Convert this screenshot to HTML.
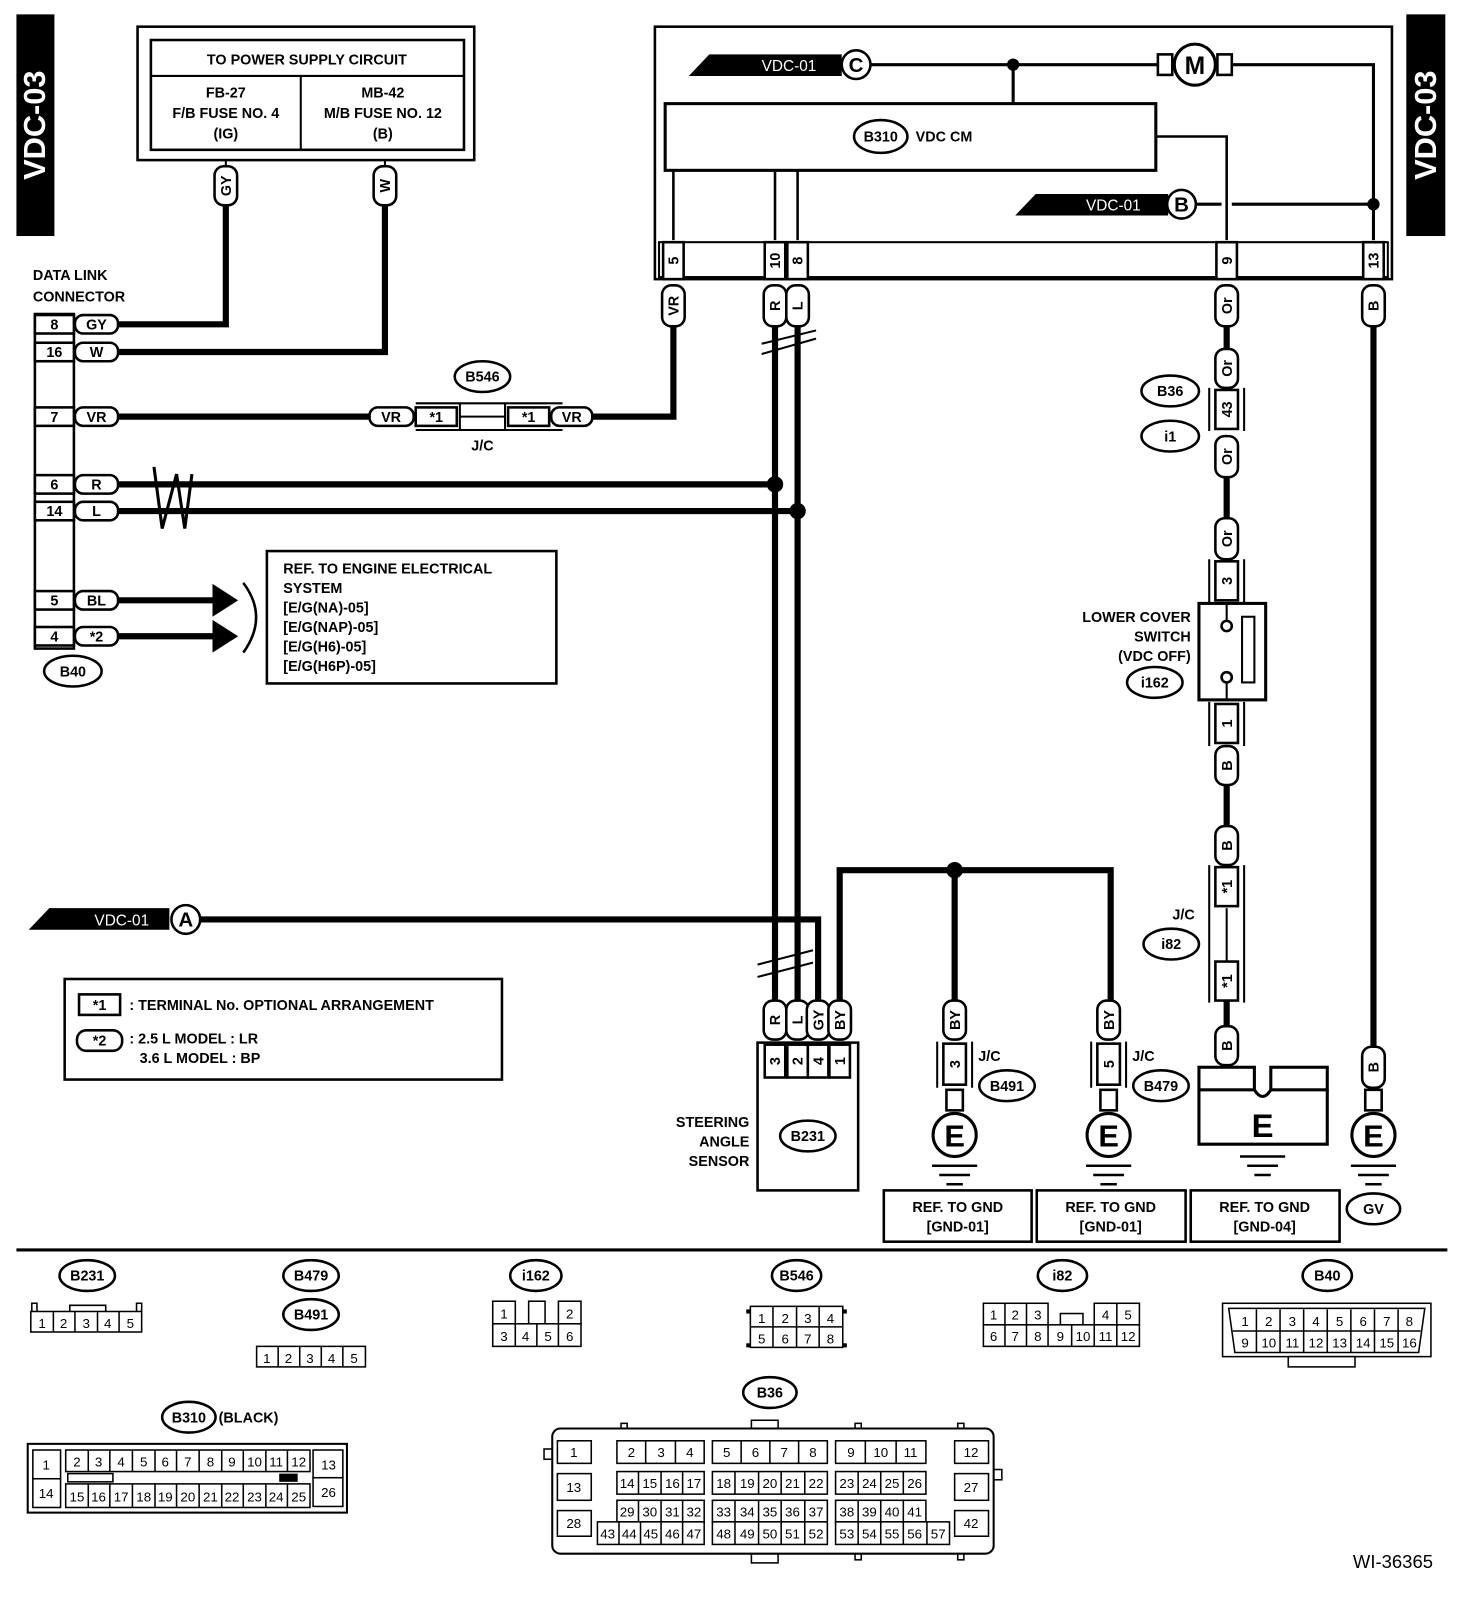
<!DOCTYPE html>
<html><head><meta charset="utf-8"><style>
html,body{margin:0;padding:0;background:#fff}
svg{display:block}
.t{font-family:"Liberation Sans",sans-serif;font-weight:bold;font-size:14px;fill:#000}
.n{font-family:"Liberation Sans Narrow","Liberation Sans",sans-serif;font-size:13px;text-anchor:middle;fill:#000}
.c{text-anchor:middle}
.r{text-anchor:end}
.w{stroke:#000;stroke-width:6;fill:none}
.l{stroke:#000;stroke-width:2;fill:none}
.b{stroke:#000;stroke-width:2.5;fill:#fff}
.cl{stroke:#000;stroke-width:1.5;fill:#fff}
</style></head><body>
<svg width="1472" height="1606" viewBox="0 0 1434 1565" preserveAspectRatio="none" xmlns="http://www.w3.org/2000/svg">
<!-- side bars -->
<rect x="16" y="14" width="37" height="216" fill="#000"/>
<text class="t" transform="translate(44,122) rotate(-90)" text-anchor="middle" style="font-size:30px;fill:#fff">VDC-03</text>
<rect x="1370" y="14" width="38" height="216" fill="#000"/>
<text class="t" transform="translate(1399,122) rotate(-90)" text-anchor="middle" style="font-size:30px;fill:#fff">VDC-03</text>

<!-- power supply box -->
<rect x="134" y="26" width="328" height="130" class="l" style="stroke-width:2.5"/>
<rect x="147" y="39" width="305" height="107" class="l" style="stroke-width:2.5"/>
<line x1="147" y1="74" x2="452" y2="74" class="l"/>
<line x1="293" y1="74" x2="293" y2="146" class="l"/>
<text class="t c" x="299" y="63">TO POWER SUPPLY CIRCUIT</text>
<text class="t c" x="220" y="95">FB-27</text><text class="t c" x="220" y="115">F/B FUSE NO. 4</text><text class="t c" x="220" y="135">(IG)</text>
<text class="t c" x="373" y="95">MB-42</text><text class="t c" x="373" y="115">M/B FUSE NO. 12</text><text class="t c" x="373" y="135">(B)</text>

<!-- wires -->
<path class="w" d="M220 200 V316 H115"/>
<path class="w" d="M375 200 V343 H115"/>
<line x1="220" y1="156" x2="220" y2="162" class="l"/><line x1="375" y1="156" x2="375" y2="162" class="l"/>
<path class="w" d="M115 406 H360"/>
<path class="w" d="M577 406 H656 V318"/>
<path class="w" d="M115 472 H755"/>
<path class="w" d="M115 498 H777"/>
<path class="w" d="M755 318 V975"/>
<path class="w" d="M777 318 V975"/>
<path class="w" d="M195 896 H797 V975"/>
<path class="w" d="M818 975 V848 H1082 V975"/>
<path class="w" d="M930 848 V975"/>
<path class="w" d="M1195 316 V340"/><path class="w" d="M1195 465 V505"/><path class="w" d="M1195 765 V805"/>
<path class="w" d="M1338 316 V1020"/>
<circle cx="755" cy="472" r="8"/><circle cx="777" cy="498" r="8"/><circle cx="930" cy="848" r="8"/>
<!-- twist marks -->
<path class="l" d="M150 455 L158 515 L172 462 L180 515 L187 462" style="stroke-width:3"/>
<path class="l" d="M742 345 L795 330 M742 335 L795 322" style="stroke-width:2"/>
<path class="l" d="M738 940 L792 926 M738 952 L792 938" style="stroke-width:2"/>

<!-- data link connector -->
<text class="t" x="32" y="273">DATA LINK</text><text class="t" x="32" y="294">CONNECTOR</text>
<rect x="34" y="306" width="38" height="326" class="l" style="stroke-width:2.5"/>
<g>
<rect x="34" y="307" width="38" height="18" class="b"/><text class="t c" x="53" y="321">8</text>
<rect x="73" y="307" width="42" height="18" rx="8" class="b"/><text class="t c" x="94" y="321">GY</text>
<rect x="34" y="334" width="38" height="18" class="b"/><text class="t c" x="53" y="348">16</text>
<rect x="73" y="334" width="42" height="18" rx="8" class="b"/><text class="t c" x="94" y="348">W</text>
<rect x="34" y="397" width="38" height="18" class="b"/><text class="t c" x="53" y="411">7</text>
<rect x="73" y="397" width="42" height="18" rx="8" class="b"/><text class="t c" x="94" y="411">VR</text>
<rect x="34" y="463" width="38" height="18" class="b"/><text class="t c" x="53" y="477">6</text>
<rect x="73" y="463" width="42" height="18" rx="8" class="b"/><text class="t c" x="94" y="477">R</text>
<rect x="34" y="489" width="38" height="18" class="b"/><text class="t c" x="53" y="503">14</text>
<rect x="73" y="489" width="42" height="18" rx="8" class="b"/><text class="t c" x="94" y="503">L</text>
<rect x="34" y="576" width="38" height="18" class="b"/><text class="t c" x="53" y="590">5</text>
<rect x="73" y="576" width="42" height="18" rx="8" class="b"/><text class="t c" x="94" y="590">BL</text>
<rect x="34" y="611" width="38" height="18" class="b"/><text class="t c" x="53" y="625">4</text>
<rect x="73" y="611" width="42" height="18" rx="8" class="b"/><text class="t c" x="94" y="625">*2</text>
</g>
<ellipse cx="71" cy="654" rx="28" ry="15" class="b"/><text class="t c" x="71" y="659">B40</text>
<path class="w" d="M115 585 H212"/><path class="w" d="M115 620 H212"/>
<polygon points="207,569 232,585 207,601"/><polygon points="207,604 232,620 207,636"/>
<path class="l" d="M237 568 Q262 601 237 636" style="stroke-width:2.5"/>
<rect x="260" y="537" width="282" height="129" class="l" style="stroke-width:2.5"/>
<text class="t" x="276" y="559">REF. TO ENGINE ELECTRICAL</text>
<text class="t" x="276" y="578">SYSTEM</text>
<text class="t" x="276" y="597">[E/G(NA)-05]</text>
<text class="t" x="276" y="616">[E/G(NAP)-05]</text>
<text class="t" x="276" y="635">[E/G(H6)-05]</text>
<text class="t" x="276" y="654">[E/G(H6P)-05]</text>

<!-- B546 J/C -->
<ellipse cx="470" cy="367" rx="27" ry="15" class="b"/><text class="t c" x="470" y="372">B546</text>
<rect x="360" y="397" width="43" height="18" rx="8" class="b"/><text class="t c" x="381" y="411">VR</text>
<rect x="405" y="397" width="40" height="18" class="b"/><text class="t c" x="425" y="411">*1</text>
<rect x="495" y="397" width="40" height="18" class="b"/><text class="t c" x="515" y="411">*1</text>
<rect x="537" y="397" width="40" height="18" rx="8" class="b"/><text class="t c" x="557" y="411">VR</text>
<line x1="405" y1="393" x2="548" y2="393" class="l"/><line x1="405" y1="419" x2="548" y2="419" class="l"/>
<line x1="448" y1="393" x2="448" y2="419" class="l"/><line x1="492" y1="393" x2="492" y2="419" class="l"/>
<line x1="448" y1="406" x2="492" y2="406" class="l"/>
<text class="t c" x="470" y="439">J/C</text>

<!-- VDC-01 A -->
<polygon points="28,906 48,885 165,885 165,906"/>
<text class="t" x="92" y="902" style="fill:#fff;font-weight:normal;font-size:15px">VDC-01</text>
<circle cx="181" cy="896" r="14" class="b"/><text class="t c" x="181" y="903" style="font-size:20px">A</text>

<!-- legend -->
<rect x="63" y="954" width="426" height="98" class="l" style="stroke-width:2.5"/>
<rect x="77" y="969" width="40" height="20" class="b"/><text class="t c" x="97" y="984">*1</text>
<text class="t" x="126" y="984">: TERMINAL No. OPTIONAL ARRANGEMENT</text>
<rect x="75" y="1004" width="44" height="20" rx="9" class="b"/><text class="t c" x="97" y="1019">*2</text>
<text class="t" x="126" y="1017">: 2.5 L MODEL  : LR</text>
<text class="t" x="136" y="1036">3.6 L MODEL  : BP</text>

<!-- main module -->
<rect x="638" y="26" width="718" height="246" class="l" style="stroke-width:2.5"/>
<rect x="642" y="236" width="710" height="34" class="l" style="stroke-width:2"/>
<polygon points="671,74 691,53 820,53 820,74"/>
<text x="742" y="69" class="t" style="fill:#fff;font-weight:normal;font-size:15px">VDC-01</text>
<circle cx="834" cy="63" r="14" class="b"/><text class="t c" x="834" y="70" style="font-size:20px">C</text>
<path class="l" d="M848 63 H1128 M1200 63 H1338 V234" style="stroke-width:3"/>
<path class="l" d="M987 63 V101" style="stroke-width:3"/><circle cx="987" cy="63" r="6"/>
<rect x="1128" y="53" width="14" height="20" class="b"/><rect x="1186" y="53" width="14" height="20" class="b"/>
<circle cx="1164" cy="63" r="20" class="b" style="stroke-width:3"/><text class="t c" x="1164" y="72" style="font-size:24px">M</text>
<rect x="648" y="101" width="478" height="65" class="l" style="stroke-width:3"/>
<ellipse cx="858" cy="133" rx="26" ry="16" class="b"/><text class="t c" x="858" y="138">B310</text>
<text class="t" x="892" y="138">VDC CM</text>
<path class="l" d="M1126 133 H1195 V234" style="stroke-width:2.5"/>
<polygon points="989,210 1009,189 1138,189 1138,210"/>
<text x="1058" y="205" class="t" style="fill:#fff;font-weight:normal;font-size:15px">VDC-01</text>
<circle cx="1151" cy="199" r="14" class="b"/><text class="t c" x="1151" y="206" style="font-size:20px">B</text>
<path class="l" d="M1165 199 H1190 M1200 199 H1338" style="stroke-width:3"/><circle cx="1338" cy="199" r="6"/>
<path class="l" d="M656 166 V234 M755 166 V234 M777 166 V234" style="stroke-width:2.5"/>
<!-- pin boxes -->
<g>
<rect x="646" y="236" width="20" height="36" class="b"/><text class="t" transform="translate(661,254) rotate(-90)" text-anchor="middle">5</text>
<rect x="745" y="236" width="20" height="36" class="b"/><text class="t" transform="translate(760,254) rotate(-90)" text-anchor="middle">10</text>
<rect x="767" y="236" width="20" height="36" class="b"/><text class="t" transform="translate(782,254) rotate(-90)" text-anchor="middle">8</text>
<rect x="1185" y="236" width="20" height="36" class="b"/><text class="t" transform="translate(1200,254) rotate(-90)" text-anchor="middle">9</text>
<rect x="1328" y="236" width="20" height="36" class="b"/><text class="t" transform="translate(1343,254) rotate(-90)" text-anchor="middle">13</text>
</g>
<!-- vertical wire labels -->
<g>
<rect x="209" y="162" width="22" height="38" rx="9" class="b"/><text class="t" transform="translate(225,181) rotate(-90)" text-anchor="middle">GY</text>
<rect x="364" y="162" width="22" height="38" rx="9" class="b"/><text class="t" transform="translate(380,181) rotate(-90)" text-anchor="middle">W</text>
<rect x="645" y="278" width="22" height="40" rx="9" class="b"/><text class="t" transform="translate(661,298) rotate(-90)" text-anchor="middle">VR</text>
<rect x="744" y="278" width="22" height="40" rx="9" class="b"/><text class="t" transform="translate(760,298) rotate(-90)" text-anchor="middle">R</text>
<rect x="766" y="278" width="22" height="40" rx="9" class="b"/><text class="t" transform="translate(782,298) rotate(-90)" text-anchor="middle">L</text>
<rect x="1184" y="278" width="22" height="40" rx="9" class="b"/><text class="t" transform="translate(1200,298) rotate(-90)" text-anchor="middle">Or</text>
<rect x="1327" y="278" width="22" height="40" rx="9" class="b"/><text class="t" transform="translate(1343,298) rotate(-90)" text-anchor="middle">B</text>
</g>

<!-- Or chain -->
<rect x="1184" y="340" width="22" height="38" rx="9" class="b"/><text class="t" transform="translate(1200,359) rotate(-90)" text-anchor="middle">Or</text>
<path class="l" d="M1178 378 V420 M1212 378 V420"/>
<rect x="1184" y="380" width="22" height="38" class="b"/><text class="t" transform="translate(1200,399) rotate(-90)" text-anchor="middle">43</text>
<rect x="1184" y="425" width="22" height="40" rx="9" class="b"/><text class="t" transform="translate(1200,445) rotate(-90)" text-anchor="middle">Or</text>
<ellipse cx="1140" cy="381" rx="28" ry="15" class="b"/><text class="t c" x="1140" y="386">B36</text>
<ellipse cx="1140" cy="425" rx="28" ry="15" class="b"/><text class="t c" x="1140" y="430">i1</text>
<rect x="1184" y="505" width="22" height="40" rx="9" class="b"/><text class="t" transform="translate(1200,525) rotate(-90)" text-anchor="middle">Or</text>
<path class="l" d="M1178 545 V588 M1212 545 V588"/>
<rect x="1184" y="547" width="22" height="38" class="b"/><text class="t" transform="translate(1200,566) rotate(-90)" text-anchor="middle">3</text>
<rect x="1168" y="588" width="65" height="94" class="l" style="stroke-width:3"/>
<path class="l" d="M1195 588 V605 M1195 665 V682"/>
<circle cx="1195" cy="610" r="5" class="b"/><circle cx="1195" cy="660" r="5" class="b"/>
<rect x="1210" y="601" width="12" height="64" class="l"/>
<text class="t r" x="1160" y="606">LOWER COVER</text><text class="t r" x="1160" y="625">SWITCH</text><text class="t r" x="1160" y="644">(VDC OFF)</text>
<ellipse cx="1125" cy="665" rx="27" ry="15" class="b"/><text class="t c" x="1125" y="670">i162</text>
<path class="l" d="M1178 684 V727 M1212 684 V727"/>
<rect x="1184" y="686" width="22" height="38" class="b"/><text class="t" transform="translate(1200,705) rotate(-90)" text-anchor="middle">1</text>
<rect x="1184" y="727" width="22" height="38" rx="9" class="b"/><text class="t" transform="translate(1200,746) rotate(-90)" text-anchor="middle">B</text>
<rect x="1184" y="805" width="22" height="38" rx="9" class="b"/><text class="t" transform="translate(1200,824) rotate(-90)" text-anchor="middle">B</text>
<path class="l" d="M1178 843 V977 M1212 843 V977"/>
<rect x="1184" y="845" width="22" height="38" class="b"/><text class="t" transform="translate(1200,864) rotate(-90)" text-anchor="middle">*1</text>
<line x1="1195" y1="885" x2="1195" y2="937" class="l"/>
<rect x="1184" y="937" width="22" height="38" class="b"/><text class="t" transform="translate(1200,956) rotate(-90)" text-anchor="middle">*1</text>
<path class="w" d="M1195 975 V1000"/>
<text class="t c" x="1153" y="896">J/C</text>
<ellipse cx="1141" cy="920" rx="27" ry="15" class="b"/><text class="t c" x="1141" y="925">i82</text>
<rect x="1184" y="1000" width="22" height="38" rx="9" class="b"/><text class="t" transform="translate(1200,1019) rotate(-90)" text-anchor="middle">B</text>
<rect x="1168" y="1040" width="54" height="22" class="b" style="stroke-width:3"/>
<rect x="1238" y="1040" width="55" height="22" class="b" style="stroke-width:3"/>
<path class="l" d="M1168 1062 V1115 H1293 V1062 M1222 1062 Q1230 1075 1238 1062" style="stroke-width:3"/>
<text class="t c" x="1230" y="1108" style="font-size:32px">E</text>
<path class="l" d="M1208 1127 H1252 M1215 1136 H1245 M1222 1145 H1238" style="stroke-width:2.5"/>

<!-- steering angle sensor -->
<g>
<rect x="744" y="975" width="22" height="38" rx="9" class="b"/><text class="t" transform="translate(760,994) rotate(-90)" text-anchor="middle">R</text>
<rect x="766" y="975" width="22" height="38" rx="9" class="b"/><text class="t" transform="translate(782,994) rotate(-90)" text-anchor="middle">L</text>
<rect x="786" y="975" width="22" height="38" rx="9" class="b"/><text class="t" transform="translate(802,994) rotate(-90)" text-anchor="middle">GY</text>
<rect x="807" y="975" width="22" height="38" rx="9" class="b"/><text class="t" transform="translate(823,994) rotate(-90)" text-anchor="middle">BY</text>
</g>
<rect x="738" y="1016" width="98" height="144" class="l" style="stroke-width:2.5"/>
<g>
<rect x="745" y="1018" width="20" height="32" class="b"/><text class="t" transform="translate(760,1034) rotate(-90)" text-anchor="middle">3</text>
<rect x="767" y="1018" width="20" height="32" class="b"/><text class="t" transform="translate(782,1034) rotate(-90)" text-anchor="middle">2</text>
<rect x="787" y="1018" width="20" height="32" class="b"/><text class="t" transform="translate(802,1034) rotate(-90)" text-anchor="middle">4</text>
<rect x="808" y="1018" width="20" height="32" class="b"/><text class="t" transform="translate(823,1034) rotate(-90)" text-anchor="middle">1</text>
</g>
<ellipse cx="787" cy="1107" rx="27" ry="15" class="b"/><text class="t c" x="787" y="1112">B231</text>
<text class="t r" x="730" y="1098">STEERING</text><text class="t r" x="730" y="1117">ANGLE</text><text class="t r" x="730" y="1136">SENSOR</text>

<!-- grounds B491 / B479 -->
<g>
<rect x="919" y="975" width="22" height="38" rx="9" class="b"/><text class="t" transform="translate(935,994) rotate(-90)" text-anchor="middle">BY</text>
<path class="l" d="M913 1015 V1060 M947 1015 V1060"/>
<rect x="919" y="1017" width="22" height="40" class="b"/><text class="t" transform="translate(935,1037) rotate(-90)" text-anchor="middle">3</text>
<rect x="922" y="1062" width="16" height="20" class="b"/>
<circle cx="930" cy="1106" r="21" class="b" style="stroke-width:3"/><text class="t c" x="930" y="1117" style="font-size:30px">E</text>
<path class="l" d="M908 1136 H952 M915 1145 H945 M922 1154 H938" style="stroke-width:2.5"/>
<text class="t" x="953" y="1034">J/C</text>
<ellipse cx="981" cy="1058" rx="27" ry="15" class="b"/><text class="t c" x="981" y="1063">B491</text>
</g>
<g>
<rect x="1069" y="975" width="22" height="38" rx="9" class="b"/><text class="t" transform="translate(1085,994) rotate(-90)" text-anchor="middle">BY</text>
<path class="l" d="M1063 1015 V1060 M1097 1015 V1060"/>
<rect x="1069" y="1017" width="22" height="40" class="b"/><text class="t" transform="translate(1085,1037) rotate(-90)" text-anchor="middle">5</text>
<rect x="1072" y="1062" width="16" height="20" class="b"/>
<circle cx="1080" cy="1106" r="21" class="b" style="stroke-width:3"/><text class="t c" x="1080" y="1117" style="font-size:30px">E</text>
<path class="l" d="M1058 1136 H1102 M1065 1145 H1095 M1072 1154 H1088" style="stroke-width:2.5"/>
<text class="t" x="1103" y="1034">J/C</text>
<ellipse cx="1131" cy="1058" rx="27" ry="15" class="b"/><text class="t c" x="1131" y="1063">B479</text>
</g>
<g>
<rect x="1327" y="1020" width="22" height="40" rx="9" class="b"/><text class="t" transform="translate(1343,1040) rotate(-90)" text-anchor="middle">B</text>
<rect x="1330" y="1062" width="16" height="20" class="b"/>
<circle cx="1338" cy="1106" r="21" class="b" style="stroke-width:3"/><text class="t c" x="1338" y="1117" style="font-size:30px">E</text>
<path class="l" d="M1316 1136 H1360 M1323 1145 H1353 M1330 1154 H1346" style="stroke-width:2.5"/>
<ellipse cx="1338" cy="1178" rx="26" ry="15" class="b"/><text class="t c" x="1338" y="1183">GV</text>
</g>
<rect x="861" y="1160" width="144" height="50" class="l" style="stroke-width:2.5"/>
<rect x="1010" y="1160" width="145" height="50" class="l" style="stroke-width:2.5"/>
<rect x="1160" y="1160" width="145" height="50" class="l" style="stroke-width:2.5"/>
<text class="t c" x="933" y="1181">REF. TO GND</text><text class="t c" x="933" y="1200">[GND-01]</text>
<text class="t c" x="1082" y="1181">REF. TO GND</text><text class="t c" x="1082" y="1200">[GND-01]</text>
<text class="t c" x="1232" y="1181">REF. TO GND</text><text class="t c" x="1232" y="1200">[GND-04]</text>

<line x1="16" y1="1218" x2="1410" y2="1218" stroke="#000" stroke-width="3"/>

<!-- bottom connectors -->
<g>
<ellipse cx="85" cy="1243" rx="27" ry="15" class="b"/><text class="t c" x="85" y="1248">B231</text>
<path class="l" d="M31 1278 V1270 H36 V1278 M68 1278 V1272 H103 V1278 M133 1278 V1270 H138 V1278" style="stroke-width:1.5"/>
<rect x="30" y="1278" width="108" height="20" class="cl"/>
<path class="l" d="M52 1278 V1298 M73 1278 V1298 M95 1278 V1298 M116 1278 V1298" style="stroke-width:1.5"/>
<text class="n" x="41" y="1294">1</text><text class="n" x="62" y="1294">2</text><text class="n" x="84" y="1294">3</text><text class="n" x="105" y="1294">4</text><text class="n" x="127" y="1294">5</text>
</g>
<g>
<ellipse cx="303" cy="1243" rx="27" ry="15" class="b"/><text class="t c" x="303" y="1248">B479</text>
<ellipse cx="303" cy="1281" rx="27" ry="15" class="b"/><text class="t c" x="303" y="1286">B491</text>
<rect x="250" y="1312" width="106" height="20" class="cl"/>
<path class="l" d="M271 1312 V1332 M292 1312 V1332 M313 1312 V1332 M334 1312 V1332" style="stroke-width:1.5"/>
<text class="n" x="260" y="1328">1</text><text class="n" x="281" y="1328">2</text><text class="n" x="302" y="1328">3</text><text class="n" x="323" y="1328">4</text><text class="n" x="345" y="1328">5</text>
</g>
<g>
<ellipse cx="522" cy="1243" rx="25" ry="15" class="b"/><text class="t c" x="522" y="1248">i162</text>
<rect x="480" y="1268" width="22" height="22" class="cl"/><rect x="544" y="1268" width="22" height="22" class="cl"/>
<rect x="515" y="1268" width="16" height="22" class="cl"/>
<rect x="480" y="1290" width="86" height="22" class="cl"/>
<path class="l" d="M502 1290 V1312 M523 1290 V1312 M544 1290 V1312" style="stroke-width:1.5"/>
<text class="n" x="491" y="1285">1</text><text class="n" x="555" y="1285">2</text>
<text class="n" x="491" y="1307">3</text><text class="n" x="512" y="1307">4</text><text class="n" x="534" y="1307">5</text><text class="n" x="555" y="1307">6</text>
</g>
<g>
<ellipse cx="776" cy="1243" rx="24" ry="15" class="b"/><text class="t c" x="776" y="1248">B546</text>
<rect x="731" y="1273" width="90" height="40" class="cl"/>
<path class="l" d="M731 1293 H821 M753 1273 V1313 M776 1273 V1313 M798 1273 V1313" style="stroke-width:1.5"/>
<rect x="727" y="1276" width="4" height="4"/><rect x="821" y="1276" width="4" height="4"/><rect x="727" y="1309" width="4" height="4"/><rect x="821" y="1309" width="4" height="4"/>
<text class="n" x="742" y="1289">1</text><text class="n" x="765" y="1289">2</text><text class="n" x="787" y="1289">3</text><text class="n" x="809" y="1289">4</text>
<text class="n" x="742" y="1309">5</text><text class="n" x="765" y="1309">6</text><text class="n" x="787" y="1309">7</text><text class="n" x="809" y="1309">8</text>
</g>
<g>
<ellipse cx="1035" cy="1243" rx="24" ry="15" class="b"/><text class="t c" x="1035" y="1248">i82</text>
<rect x="958" y="1270" width="63" height="21" class="cl"/><rect x="1066" y="1270" width="44" height="21" class="cl"/>
<rect x="1033" y="1280" width="22" height="11" class="cl"/>
<rect x="958" y="1291" width="152" height="21" class="cl"/>
<path class="l" d="M979 1270 V1312 M1000 1270 V1312 M1021 1291 V1312 M1044 1291 V1312 M1066 1291 V1312 M1088 1270 V1312" style="stroke-width:1.5"/>
<text class="n" x="968" y="1286">1</text><text class="n" x="989" y="1286">2</text><text class="n" x="1011" y="1286">3</text><text class="n" x="1077" y="1286">4</text><text class="n" x="1099" y="1286">5</text>
<text class="n" x="968" y="1307">6</text><text class="n" x="989" y="1307">7</text><text class="n" x="1011" y="1307">8</text><text class="n" x="1033" y="1307">9</text><text class="n" x="1055" y="1307">10</text><text class="n" x="1077" y="1307">11</text><text class="n" x="1099" y="1307">12</text>
</g>
<g>
<ellipse cx="1293" cy="1243" rx="24" ry="15" class="b"/><text class="t c" x="1293" y="1248">B40</text>
<rect x="1191" y="1270" width="203" height="52" class="cl"/>
<path class="l" d="M1197 1275 H1388 L1382 1318 H1203 Z" style="stroke-width:1.5"/>
<rect x="1255" y="1322" width="65" height="10" class="cl"/>
<path class="l" d="M1201 1297 H1384 M1224 1276 V1318 M1247 1276 V1318 M1270 1276 V1318 M1293 1276 V1318 M1316 1276 V1318 M1339 1276 V1318 M1362 1276 V1318" style="stroke-width:1.5"/>
<text class="n" x="1213" y="1292">1</text><text class="n" x="1236" y="1292">2</text><text class="n" x="1259" y="1292">3</text><text class="n" x="1282" y="1292">4</text><text class="n" x="1305" y="1292">5</text><text class="n" x="1328" y="1292">6</text><text class="n" x="1351" y="1292">7</text><text class="n" x="1373" y="1292">8</text>
<text class="n" x="1213" y="1313">9</text><text class="n" x="1236" y="1313">10</text><text class="n" x="1259" y="1313">11</text><text class="n" x="1282" y="1313">12</text><text class="n" x="1305" y="1313">13</text><text class="n" x="1328" y="1313">14</text><text class="n" x="1351" y="1313">15</text><text class="n" x="1373" y="1313">16</text>
</g>
<g>
<ellipse cx="184" cy="1381" rx="26" ry="15" class="b"/><text class="t c" x="184" y="1386">B310</text>
<text class="t" x="213" y="1386">(BLACK)</text>
<rect x="27" y="1407" width="311" height="67" class="cl" style="stroke-width:2"/>
<rect x="32" y="1413" width="27" height="28" class="cl"/><rect x="32" y="1441" width="27" height="28" class="cl"/>
<rect x="305" y="1413" width="29" height="27" class="cl"/><rect x="305" y="1440" width="29" height="28" class="cl"/>
<rect x="64" y="1413" width="238" height="21" class="cl"/><rect x="64" y="1446" width="238" height="23" class="cl"/>
<rect x="66" y="1436" width="44" height="8" class="cl"/><rect x="272" y="1436" width="18" height="8" fill="#000"/>
<path class="l" d="M86 1413 V1434 M107 1413 V1434 M129 1413 V1434 M151 1413 V1434 M172 1413 V1434 M194 1413 V1434 M216 1413 V1434 M237 1413 V1434 M259 1413 V1434 M280 1413 V1434 M86 1446 V1469 M107 1446 V1469 M129 1446 V1469 M151 1446 V1469 M172 1446 V1469 M194 1446 V1469 M216 1446 V1469 M237 1446 V1469 M259 1446 V1469 M280 1446 V1469" style="stroke-width:1.5"/>
<text class="n" x="45" y="1432">1</text><text class="n" x="45" y="1460">14</text><text class="n" x="320" y="1432">13</text><text class="n" x="320" y="1459">26</text>
<text class="n" x="75" y="1429">2</text><text class="n" x="96" y="1429">3</text><text class="n" x="118" y="1429">4</text><text class="n" x="140" y="1429">5</text><text class="n" x="161" y="1429">6</text><text class="n" x="183" y="1429">7</text><text class="n" x="205" y="1429">8</text><text class="n" x="226" y="1429">9</text><text class="n" x="248" y="1429">10</text><text class="n" x="269" y="1429">11</text><text class="n" x="291" y="1429">12</text>
<text class="n" x="75" y="1463">15</text><text class="n" x="96" y="1463">16</text><text class="n" x="118" y="1463">17</text><text class="n" x="140" y="1463">18</text><text class="n" x="161" y="1463">19</text><text class="n" x="183" y="1463">20</text><text class="n" x="205" y="1463">21</text><text class="n" x="226" y="1463">22</text><text class="n" x="248" y="1463">23</text><text class="n" x="269" y="1463">24</text><text class="n" x="291" y="1463">25</text>
</g>
<g>
<ellipse cx="750" cy="1357" rx="26" ry="15" class="b"/><text class="t c" x="750" y="1362">B36</text>
<rect x="732" y="1384" width="26" height="9" class="cl"/><rect x="732" y="1514" width="26" height="9" class="cl"/>
<rect x="605" y="1387" width="6" height="6" class="cl"/><rect x="833" y="1387" width="6" height="6" class="cl"/><rect x="933" y="1387" width="6" height="6" class="cl"/>
<rect x="833" y="1514" width="6" height="6" class="cl"/><rect x="933" y="1514" width="6" height="6" class="cl"/>
<rect x="530" y="1412" width="8" height="10" class="cl"/><rect x="968" y="1432" width="8" height="10" class="cl"/>
<rect x="538" y="1392" width="430" height="122" rx="8" class="cl" style="stroke-width:2"/>
<rect x="543" y="1404" width="33" height="22" class="cl"/><rect x="543" y="1436" width="33" height="26" class="cl"/><rect x="543" y="1472" width="33" height="25" class="cl"/>
<rect x="930" y="1404" width="33" height="22" class="cl"/><rect x="930" y="1436" width="33" height="26" class="cl"/><rect x="930" y="1472" width="33" height="25" class="cl"/>
<text class="n" x="559" y="1420">1</text><text class="n" x="559" y="1454">13</text><text class="n" x="559" y="1489">28</text>
<text class="n" x="946" y="1420">12</text><text class="n" x="946" y="1454">27</text><text class="n" x="946" y="1489">42</text>
<!-- group1 -->
<rect x="601" y="1404" width="85" height="22" class="cl"/><path class="l" d="M629 1404 V1426 M658 1404 V1426" style="stroke-width:1.5"/>
<rect x="601" y="1434" width="85" height="22" class="cl"/><path class="l" d="M622 1434 V1456 M644 1434 V1456 M665 1434 V1456" style="stroke-width:1.5"/>
<rect x="601" y="1462" width="85" height="21" class="cl"/><path class="l" d="M622 1462 V1483 M644 1462 V1483 M665 1462 V1483" style="stroke-width:1.5"/>
<rect x="582" y="1483" width="104" height="22" class="cl"/><path class="l" d="M603 1483 V1505 M624 1483 V1505 M644 1483 V1505 M665 1483 V1505" style="stroke-width:1.5"/>
<text class="n" x="615" y="1420">2</text><text class="n" x="644" y="1420">3</text><text class="n" x="672" y="1420">4</text>
<text class="n" x="611" y="1450">14</text><text class="n" x="633" y="1450">15</text><text class="n" x="655" y="1450">16</text><text class="n" x="676" y="1450">17</text>
<text class="n" x="611" y="1478">29</text><text class="n" x="633" y="1478">30</text><text class="n" x="655" y="1478">31</text><text class="n" x="676" y="1478">32</text>
<text class="n" x="592" y="1499">43</text><text class="n" x="613" y="1499">44</text><text class="n" x="634" y="1499">45</text><text class="n" x="655" y="1499">46</text><text class="n" x="676" y="1499">47</text>
<!-- group2 -->
<rect x="694" y="1404" width="112" height="22" class="cl"/><path class="l" d="M722 1404 V1426 M750 1404 V1426 M778 1404 V1426" style="stroke-width:1.5"/>
<rect x="694" y="1434" width="112" height="22" class="cl"/><path class="l" d="M716 1434 V1456 M739 1434 V1456 M761 1434 V1456 M784 1434 V1456" style="stroke-width:1.5"/>
<rect x="694" y="1462" width="112" height="21" class="cl"/><path class="l" d="M716 1462 V1483 M739 1462 V1483 M761 1462 V1483 M784 1462 V1483" style="stroke-width:1.5"/>
<rect x="694" y="1483" width="112" height="22" class="cl"/><path class="l" d="M716 1483 V1505 M739 1483 V1505 M761 1483 V1505 M784 1483 V1505" style="stroke-width:1.5"/>
<text class="n" x="708" y="1420">5</text><text class="n" x="736" y="1420">6</text><text class="n" x="764" y="1420">7</text><text class="n" x="792" y="1420">8</text>
<text class="n" x="705" y="1450">18</text><text class="n" x="728" y="1450">19</text><text class="n" x="750" y="1450">20</text><text class="n" x="772" y="1450">21</text><text class="n" x="795" y="1450">22</text>
<text class="n" x="705" y="1478">33</text><text class="n" x="728" y="1478">34</text><text class="n" x="750" y="1478">35</text><text class="n" x="772" y="1478">36</text><text class="n" x="795" y="1478">37</text>
<text class="n" x="705" y="1499">48</text><text class="n" x="728" y="1499">49</text><text class="n" x="750" y="1499">50</text><text class="n" x="772" y="1499">51</text><text class="n" x="795" y="1499">52</text>
<!-- group3 -->
<rect x="814" y="1404" width="88" height="22" class="cl"/><path class="l" d="M843 1404 V1426 M873 1404 V1426" style="stroke-width:1.5"/>
<rect x="814" y="1434" width="88" height="22" class="cl"/><path class="l" d="M836 1434 V1456 M858 1434 V1456 M880 1434 V1456" style="stroke-width:1.5"/>
<rect x="814" y="1462" width="88" height="21" class="cl"/><path class="l" d="M836 1462 V1483 M858 1462 V1483 M880 1462 V1483" style="stroke-width:1.5"/>
<rect x="814" y="1483" width="111" height="22" class="cl"/><path class="l" d="M836 1483 V1505 M858 1483 V1505 M880 1483 V1505 M903 1483 V1505" style="stroke-width:1.5"/>
<text class="n" x="829" y="1420">9</text><text class="n" x="858" y="1420">10</text><text class="n" x="887" y="1420">11</text>
<text class="n" x="825" y="1450">23</text><text class="n" x="847" y="1450">24</text><text class="n" x="869" y="1450">25</text><text class="n" x="891" y="1450">26</text>
<text class="n" x="825" y="1478">38</text><text class="n" x="847" y="1478">39</text><text class="n" x="869" y="1478">40</text><text class="n" x="891" y="1478">41</text>
<text class="n" x="825" y="1499">53</text><text class="n" x="847" y="1499">54</text><text class="n" x="869" y="1499">55</text><text class="n" x="891" y="1499">56</text><text class="n" x="914" y="1499">57</text>
</g>
<text x="1357" y="1528" style="font-family:'Liberation Sans',sans-serif;font-size:18px" text-anchor="middle">WI-36365</text>
</svg>
</body></html>
